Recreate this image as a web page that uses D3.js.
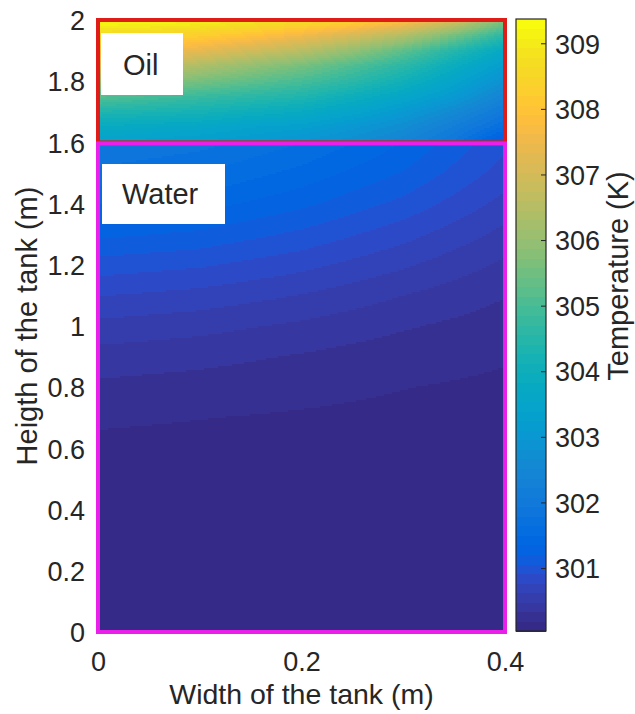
<!DOCTYPE html>
<html><head><meta charset="utf-8">
<script src="https://cdn.jsdelivr.net/npm/d3@7"></script>
<style>
body{margin:0;background:#fff}
svg{display:block}
text{font-family:"Liberation Sans",Arial,Helvetica,sans-serif;fill:#262626}
</style>
</head><body>
<svg id="chart" width="635" height="714"></svg>
<script>
// ---------------- data ----------------
const xTicks = [0, 0.2, 0.4];
const yTicks = [0, 0.2, 0.4, 0.6, 0.8, 1, 1.2, 1.4, 1.6, 1.8, 2];
const cTicks = [301, 302, 303, 304, 305, 306, 307, 308, 309];
const tempRange = [300.04, 309.37];
const xTitle = "Width of the tank (m)";
const yTitle = "Heigth of the tank (m)";
const cTitle = "Temperature (K)";
const regionNames = ["Oil", "Water"];

// Oil layer temperatures (K): columns = oilX, rows = oilY
const oilX = [0, 0.05, 0.1, 0.15, 0.2, 0.25, 0.3, 0.35, 0.4];
const oilY = [2.0, 1.95, 1.9, 1.85, 1.8, 1.75, 1.7, 1.65, 1.6];
const oilT = [
  [309.35, 309.3, 309.2, 309.0, 308.8, 308.5, 308.0, 307.2, 305.8],
  [308.6, 308.5, 308.3, 308.0, 307.6, 307.1, 306.5, 305.6, 304.6],
  [307.9, 307.7, 307.4, 307.0, 306.6, 306.0, 305.3, 304.5, 303.7],
  [307.0, 306.8, 306.4, 306.0, 305.6, 305.1, 304.6, 303.9, 303.2],
  [306.1, 305.9, 305.6, 305.3, 305.0, 304.6, 304.1, 303.5, 302.8],
  [305.2, 305.0, 304.8, 304.6, 304.4, 304.0, 303.6, 303.1, 302.4],
  [304.4, 304.3, 304.2, 304.0, 303.8, 303.5, 303.1, 302.6, 302.0],
  [303.8, 303.7, 303.6, 303.4, 303.3, 303.0, 302.7, 302.2, 301.6],
  [303.4, 303.3, 303.2, 303.1, 302.9, 302.7, 302.4, 301.9, 301.0]
];

// Water layer temperatures (K): columns = waterX, rows = waterY
const waterX = [0, 0.1, 0.2, 0.3, 0.4];
const waterY = [1.6, 1.5, 1.4, 1.3, 1.2, 1.1, 1.0, 0.9, 0.8, 0.7, 0.6, 0.5, 0.0];
const waterT = [
  [301.95, 301.85, 301.65, 301.35, 300.95],
  [301.75, 301.65, 301.45, 301.20, 300.85],
  [301.50, 301.42, 301.25, 301.02, 300.72],
  [301.25, 301.18, 301.03, 300.83, 300.58],
  [301.00, 300.94, 300.82, 300.65, 300.45],
  [300.78, 300.72, 300.62, 300.48, 300.34],
  [300.58, 300.53, 300.45, 300.35, 300.26],
  [300.42, 300.38, 300.32, 300.25, 300.20],
  [300.30, 300.27, 300.23, 300.19, 300.16],
  [300.21, 300.19, 300.17, 300.15, 300.13],
  [300.15, 300.14, 300.12, 300.11, 300.10],
  [300.11, 300.10, 300.10, 300.09, 300.09],
  [300.08, 300.08, 300.08, 300.08, 300.08]
];

// ---------------- style ----------------
const parula = [
[53,42,135],[54,48,147],[54,55,160],[53,61,173],[50,67,186],[44,74,199],[32,83,212],[15,92,221],
[3,99,225],[2,104,225],[4,109,224],[8,113,222],[13,117,220],[16,121,218],[18,125,216],[20,129,214],
[20,133,212],[19,137,211],[16,142,210],[12,147,210],[9,152,209],[7,156,207],[6,160,205],[6,164,202],
[6,167,198],[7,169,194],[10,172,190],[15,174,185],[21,177,180],[29,179,175],[37,181,169],[46,183,164],
[56,185,158],[66,187,152],[77,188,146],[89,189,140],[101,190,134],[113,191,128],[124,191,123],[135,191,119],
[146,191,115],[156,191,111],[165,190,107],[174,190,103],[183,189,100],[192,188,96],[200,188,93],[209,187,89],
[217,186,86],[225,185,82],[233,185,78],[241,185,74],[248,187,68],[253,190,61],[255,195,55],[254,200,50],
[252,206,46],[250,211,42],[247,216,38],[245,222,33],[245,228,29],[245,235,24],[246,243,19],[249,251,14]
].map(c => d3.rgb(c[0], c[1], c[2]).formatHex());

const TICK_FONT = 27, LABEL_FONT = 28.5;
const svg = d3.select("#chart");

const x = d3.scaleLinear().domain([0, 0.4]).range([98, 505]);
const y = d3.scaleLinear().domain([0, 2]).range([632, 20]);
const color = d3.scaleQuantize().domain(tempRange).range(parula);

function bilinear(X, Y, T, xv, yv) {
  let i = 0; while (i < X.length - 2 && xv > X[i + 1]) i++;
  let j = 0; while (j < Y.length - 2 && yv < Y[j + 1]) j++;
  const fx = Math.max(0, Math.min(1, (xv - X[i]) / (X[i + 1] - X[i])));
  const fy = Math.max(0, Math.min(1, (yv - Y[j]) / (Y[j + 1] - Y[j])));
  const a = T[j][i] * (1 - fx) + T[j][i + 1] * fx;
  const b = T[j + 1][i] * (1 - fx) + T[j + 1][i + 1] * fx;
  return a * (1 - fy) + b * fy;
}

function fieldCells(X, Y, T) {
  const step = 2;
  const yHi = d3.max(Y), yLo = d3.min(Y);
  const px0 = x(X[0]), px1 = x(X[X.length - 1]);
  const py0 = y(yHi), py1 = y(yLo);
  const cells = [];
  for (let py = py0; py < py1; py += step) {
    const h = Math.min(step, py1 - py);
    const yv = y.invert(py + h / 2);
    let runStart = px0, runColor = null;
    for (let px = px0; px < px1; px += step) {
      const w = Math.min(step, px1 - px);
      const c = color(bilinear(X, Y, T, x.invert(px + w / 2), yv));
      if (c !== runColor) {
        if (runColor !== null) cells.push({x: runStart, y: py, w: px - runStart, h, c: runColor});
        runStart = px; runColor = c;
      }
    }
    cells.push({x: runStart, y: py, w: px1 - runStart, h, c: runColor});
  }
  return cells;
}

const field = svg.append("g").attr("shape-rendering", "crispEdges");
[[oilX, oilY, oilT], [waterX, waterY, waterT]].forEach(([X, Y, T]) => {
  field.append("g").selectAll("rect").data(fieldCells(X, Y, T)).join("rect")
    .attr("x", d => d.x).attr("y", d => d.y)
    .attr("width", d => d.w + 0.5).attr("height", d => d.h + 0.5)
    .attr("fill", d => d.c);
});

// Region borders
svg.append("rect")
  .attr("x", x(0)).attr("y", y(2))
  .attr("width", x(0.4) - x(0)).attr("height", y(1.6) - y(2))
  .attr("fill", "none").attr("stroke", "#e01c18").attr("stroke-width", 4);
svg.append("rect")
  .attr("x", x(0)).attr("y", y(1.6) + 1)
  .attr("width", x(0.4) - x(0)).attr("height", y(0) - y(1.6) - 1)
  .attr("fill", "none").attr("stroke", "#ea1fea").attr("stroke-width", 4);

// Region labels
const regionBoxes = [
  {name: regionNames[0], x0: 101, y0: 33, x1: 183, y1: 95, tx: 123, ty: 75},
  {name: regionNames[1], x0: 102, y0: 164, x1: 225, y1: 224, tx: 122, ty: 204}
];
regionBoxes.forEach(b => {
  svg.append("rect").attr("x", b.x0).attr("y", b.y0)
    .attr("width", b.x1 - b.x0).attr("height", b.y1 - b.y0).attr("fill", "#fff");
  svg.append("text").attr("x", b.tx).attr("y", b.ty)
    .attr("font-size", 29).text(b.name);
});

// Axes
const xAxis = svg.append("g").attr("transform", `translate(0,${y(0)})`)
  .call(d3.axisBottom(x).tickValues(xTicks).tickFormat(d3.format("")).tickSize(0).tickPadding(20));
xAxis.select(".domain").remove();
xAxis.selectAll("text").attr("font-size", TICK_FONT).attr("fill", "#262626");

const yAxis = svg.append("g").attr("transform", `translate(${x(0)},0)`)
  .call(d3.axisLeft(y).tickValues(yTicks).tickFormat(d3.format("")).tickSize(0).tickPadding(13));
yAxis.select(".domain").remove();
yAxis.selectAll("text").attr("font-size", TICK_FONT).attr("fill", "#262626").attr("dy", "0.36em");

svg.append("text").attr("x", (x(0) + x(0.4)) / 2).attr("y", 704)
  .attr("text-anchor", "middle").attr("font-size", LABEL_FONT).text(xTitle);
svg.append("text").attr("transform", `translate(37,${(y(0) + y(2)) / 2}) rotate(-90)`)
  .attr("text-anchor", "middle").attr("font-size", 29).text(yTitle);

// Colorbar
const cb = {x0: 516, x1: 546, top: 19, bottom: 631};
const cy = d3.scaleLinear().domain(tempRange).range([cb.bottom, cb.top]);
const binW = (tempRange[1] - tempRange[0]) / parula.length;
svg.append("g").attr("shape-rendering", "crispEdges").selectAll("rect")
  .data(parula).join("rect")
  .attr("x", cb.x0).attr("width", cb.x1 - cb.x0)
  .attr("y", (c, i) => cy(tempRange[0] + (i + 1) * binW))
  .attr("height", (c, i) => cy(tempRange[0] + i * binW) - cy(tempRange[0] + (i + 1) * binW) + 0.5)
  .attr("fill", c => c);
svg.append("rect").attr("x", cb.x0).attr("y", cb.top)
  .attr("width", cb.x1 - cb.x0).attr("height", cb.bottom - cb.top)
  .attr("fill", "none").attr("stroke", "#262626").attr("stroke-width", 1.2);
const cAxis = svg.append("g").attr("transform", `translate(${cb.x1},0)`)
  .call(d3.axisRight(cy).tickValues(cTicks).tickSizeInner(-5).tickSizeOuter(0).tickPadding(9));
cAxis.select(".domain").remove();
cAxis.selectAll("line").attr("stroke", "#262626");
cAxis.selectAll("text").attr("font-size", TICK_FONT).attr("fill", "#262626").attr("dy", "0.36em");
svg.append("text").attr("transform", `translate(628,276) rotate(-90)`)
  .attr("text-anchor", "middle").attr("font-size", 29).text(cTitle);
</script>
</body></html>
